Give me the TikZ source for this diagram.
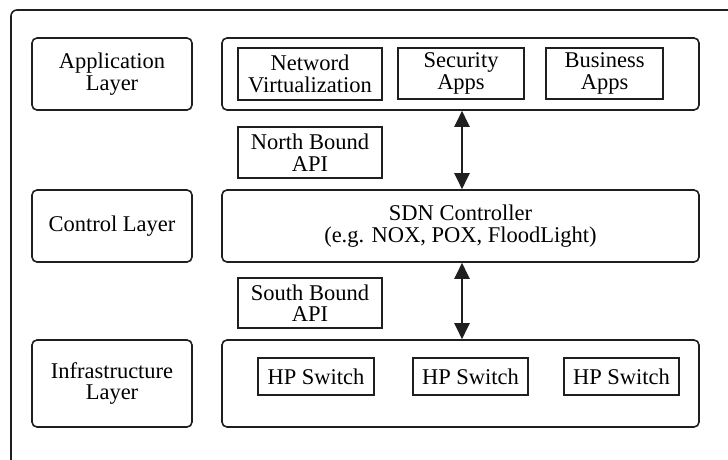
\documentclass[tikz,border=0pt]{standalone}
\usepackage{fontspec}
\setmainfont{Liberation Serif}
\usetikzlibrary{arrows.meta}
\tikzset{
  base/.style={draw=black!88, inner sep=0pt, align=center, font=\fontsize{22.5}{21.5}\selectfont, anchor=center},
  layerbox/.style={base, rounded corners=5pt, line width=1.6pt},
  inbox/.style={base, line width=1.9pt},
  biarrow/.style={line width=2.2pt, draw=black!88, {Triangle[length=16pt,width=15pt]}-{Triangle[length=16pt,width=15pt]}}
}
\begin{document}
\begin{tikzpicture}[x=1pt,y=-1pt]
\useasboundingbox (0,0) rectangle (728,460);
\begin{scope}
\clip (0,0) rectangle (728,460);
\draw[line width=1.6pt, draw=black!88, rounded corners=6pt] (11,10) rectangle (760,490);
\end{scope}
% left layer labels
\node[layerbox, minimum width=160pt, minimum height=72pt] (appl) at (112,74) {Application\\Layer};
\node[layerbox, minimum width=160pt, minimum height=72pt] (ctrll) at (112,226) {Control Layer};
\node[layerbox, minimum width=160pt, minimum height=87pt] (infl) at (112,383.5) {Infrastructure\\Layer};
% right containers
\node[layerbox, minimum width=477pt, minimum height=72pt] (app) at (460.5,74) {};
\node[layerbox, minimum width=477pt, minimum height=72pt] (sdn) at (460.5,226) {SDN Controller\\(e.g. NOX, POX, FloodLight)};
\node[layerbox, minimum width=477pt, minimum height=87pt] (inf) at (460.5,383.5) {};
% apps
\node[inbox, minimum width=144pt, minimum height=52pt] (nv) at (310,74) {Netword\\Virtualization};
\node[inbox, minimum width=126pt, minimum height=51pt] (sec) at (461,73.5) {Security\\Apps};
\node[inbox, minimum width=117pt, minimum height=51pt] (bus) at (604.5,73.5) {Business\\Apps};
% APIs
\node[inbox, minimum width=144pt, minimum height=51pt] (nb) at (310,152.5) {North Bound\\API};
\node[inbox, minimum width=144pt, minimum height=50pt] (sb) at (310,303) {South Bound\\API};
% switches
\node[inbox, minimum width=116pt, minimum height=37pt] (hp1) at (316,376.5) {HP Switch};
\node[inbox, minimum width=115pt, minimum height=37pt] (hp2) at (470.5,376.5) {HP Switch};
\node[inbox, minimum width=115pt, minimum height=37pt] (hp3) at (621.5,376.5) {HP Switch};
% arrows
\coordinate (ax) at (462,0);
\draw[biarrow] (ax |- app.south) -- (ax |- sdn.north);
\draw[biarrow] (ax |- sdn.south) -- (ax |- inf.north);
\end{tikzpicture}
\end{document}
